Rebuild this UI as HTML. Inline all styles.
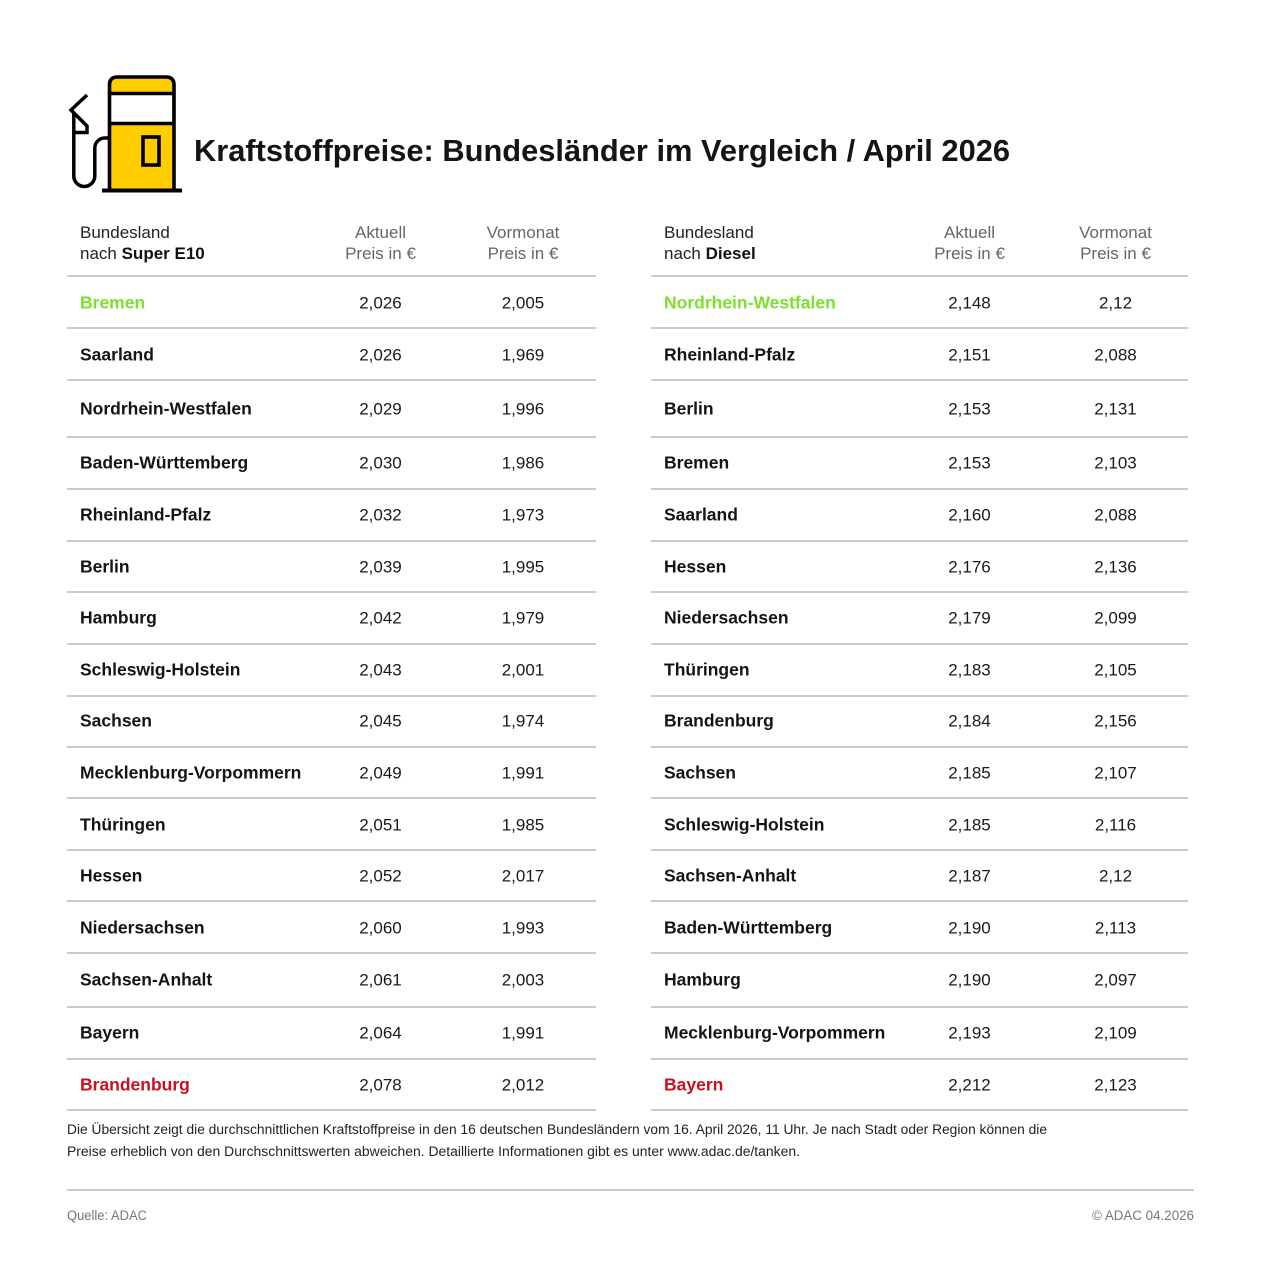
<!DOCTYPE html>
<html><head><meta charset="utf-8"><style>
html,body{margin:0;padding:0;background:#fff;}
svg{display:block;}
text{font-family:"Liberation Sans",sans-serif;}
.n{font-size:17.5px;font-weight:bold;fill:#141414;}
.v{font-size:17px;fill:#1a1a1a;text-anchor:middle;}
.h{font-size:17px;fill:#222;}
.hg{font-size:17px;fill:#666;text-anchor:middle;}
.f{font-size:13.5px;fill:#222;}
.s{font-size:13.5px;fill:#777;}
</style></head><body>
<svg width="1280" height="1272" viewBox="0 0 1280 1272" xmlns="http://www.w3.org/2000/svg">
<rect width="1280" height="1272" fill="#fff"/>
<!-- icon -->
<g>
<path d="M109.5,190 V85 Q109.5,77 117.5,77 H166 Q174,77 174,85 V190 Z" fill="#FFCC00"/>
<rect x="111" y="95" width="61" height="27" fill="#fff"/>
<path d="M109.5,190 V85 Q109.5,77 117.5,77 H166 Q174,77 174,85 V190" fill="none" stroke="#000" stroke-width="3.6"/>
<line x1="110" y1="93.5" x2="174" y2="93.5" stroke="#000" stroke-width="3.4"/>
<line x1="110" y1="123.5" x2="174" y2="123.5" stroke="#000" stroke-width="3.4"/>
<rect x="143" y="137" width="16" height="28" fill="none" stroke="#000" stroke-width="3.6"/>
<line x1="102" y1="190.5" x2="182" y2="190.5" stroke="#000" stroke-width="4"/>
<path d="M87,95 L71,110 L87,126 V132.5 H73.8 M73.8,113 V176 A10.5,10.5 0 0 0 94.8,176 V148 A10,10 0 0 1 104.8,138 H109" fill="none" stroke="#000" stroke-width="3.5" stroke-linejoin="miter"/>
</g>
<text x="194" y="161" font-size="31" font-weight="bold" fill="#141414" textLength="816" lengthAdjust="spacingAndGlyphs">Kraftstoffpreise: Bundesländer im Vergleich / April 2026</text>

<!-- headers -->
<text class="h" x="80" y="238">Bundesland</text>
<text class="h" x="80" y="259">nach <tspan font-weight="bold" fill="#111">Super E10</tspan></text>
<text class="hg" x="380.5" y="238">Aktuell</text>
<text class="hg" x="380.5" y="259">Preis in €</text>
<text class="hg" x="523" y="238">Vormonat</text>
<text class="hg" x="523" y="259">Preis in €</text>

<text class="h" x="664" y="238">Bundesland</text>
<text class="h" x="664" y="259">nach <tspan font-weight="bold" fill="#111">Diesel</tspan></text>
<text class="hg" x="969.5" y="238">Aktuell</text>
<text class="hg" x="969.5" y="259">Preis in €</text>
<text class="hg" x="1115.5" y="238">Vormonat</text>
<text class="hg" x="1115.5" y="259">Preis in €</text>

<!-- lines -->
<g stroke="#cacaca" stroke-width="2">
<line x1="67" x2="596" y1="276" y2="276"/><line x1="651" x2="1188" y1="276" y2="276"/>
<line x1="67" x2="596" y1="328" y2="328"/><line x1="651" x2="1188" y1="328" y2="328"/>
<line x1="67" x2="596" y1="380" y2="380"/><line x1="651" x2="1188" y1="380" y2="380"/>
<line x1="67" x2="596" y1="437" y2="437"/><line x1="651" x2="1188" y1="437" y2="437"/>
<line x1="67" x2="596" y1="489" y2="489"/><line x1="651" x2="1188" y1="489" y2="489"/>
<line x1="67" x2="596" y1="541" y2="541"/><line x1="651" x2="1188" y1="541" y2="541"/>
<line x1="67" x2="596" y1="592" y2="592"/><line x1="651" x2="1188" y1="592" y2="592"/>
<line x1="67" x2="596" y1="644" y2="644"/><line x1="651" x2="1188" y1="644" y2="644"/>
<line x1="67" x2="596" y1="696" y2="696"/><line x1="651" x2="1188" y1="696" y2="696"/>
<line x1="67" x2="596" y1="747" y2="747"/><line x1="651" x2="1188" y1="747" y2="747"/>
<line x1="67" x2="596" y1="798" y2="798"/><line x1="651" x2="1188" y1="798" y2="798"/>
<line x1="67" x2="596" y1="850" y2="850"/><line x1="651" x2="1188" y1="850" y2="850"/>
<line x1="67" x2="596" y1="901" y2="901"/><line x1="651" x2="1188" y1="901" y2="901"/>
<line x1="67" x2="596" y1="953" y2="953"/><line x1="651" x2="1188" y1="953" y2="953"/>
<line x1="67" x2="596" y1="1007" y2="1007"/><line x1="651" x2="1188" y1="1007" y2="1007"/>
<line x1="67" x2="596" y1="1059" y2="1059"/><line x1="651" x2="1188" y1="1059" y2="1059"/>
<line x1="67" x2="596" y1="1110" y2="1110"/><line x1="651" x2="1188" y1="1110" y2="1110"/>
<line x1="67" x2="1194" y1="1190" y2="1190"/>
</g>

<!-- left table -->
<text class="n" x="80" y="308.5" style="fill:#7ee02e">Bremen</text><text class="v" x="380.5" y="308.5">2,026</text><text class="v" x="523" y="308.5">2,005</text>
<text class="n" x="80" y="360.5">Saarland</text><text class="v" x="380.5" y="360.5">2,026</text><text class="v" x="523" y="360.5">1,969</text>
<text class="n" x="80" y="414.5">Nordrhein-Westfalen</text><text class="v" x="380.5" y="414.5">2,029</text><text class="v" x="523" y="414.5">1,996</text>
<text class="n" x="80" y="468.5">Baden-Württemberg</text><text class="v" x="380.5" y="468.5">2,030</text><text class="v" x="523" y="468.5">1,986</text>
<text class="n" x="80" y="520.5">Rheinland-Pfalz</text><text class="v" x="380.5" y="520.5">2,032</text><text class="v" x="523" y="520.5">1,973</text>
<text class="n" x="80" y="572.5">Berlin</text><text class="v" x="380.5" y="572.5">2,039</text><text class="v" x="523" y="572.5">1,995</text>
<text class="n" x="80" y="623.5">Hamburg</text><text class="v" x="380.5" y="623.5">2,042</text><text class="v" x="523" y="623.5">1,979</text>
<text class="n" x="80" y="675.5">Schleswig-Holstein</text><text class="v" x="380.5" y="675.5">2,043</text><text class="v" x="523" y="675.5">2,001</text>
<text class="n" x="80" y="726.5">Sachsen</text><text class="v" x="380.5" y="726.5">2,045</text><text class="v" x="523" y="726.5">1,974</text>
<text class="n" x="80" y="778.5">Mecklenburg-Vorpommern</text><text class="v" x="380.5" y="778.5">2,049</text><text class="v" x="523" y="778.5">1,991</text>
<text class="n" x="80" y="830.5">Thüringen</text><text class="v" x="380.5" y="830.5">2,051</text><text class="v" x="523" y="830.5">1,985</text>
<text class="n" x="80" y="881.5">Hessen</text><text class="v" x="380.5" y="881.5">2,052</text><text class="v" x="523" y="881.5">2,017</text>
<text class="n" x="80" y="933.5">Niedersachsen</text><text class="v" x="380.5" y="933.5">2,060</text><text class="v" x="523" y="933.5">1,993</text>
<text class="n" x="80" y="985.5">Sachsen-Anhalt</text><text class="v" x="380.5" y="985.5">2,061</text><text class="v" x="523" y="985.5">2,003</text>
<text class="n" x="80" y="1038.5">Bayern</text><text class="v" x="380.5" y="1038.5">2,064</text><text class="v" x="523" y="1038.5">1,991</text>
<text class="n" x="80" y="1090.5" style="fill:#c8101e">Brandenburg</text><text class="v" x="380.5" y="1090.5">2,078</text><text class="v" x="523" y="1090.5">2,012</text>

<!-- right table -->
<text class="n" x="664" y="308.5" style="fill:#7ee02e">Nordrhein-Westfalen</text><text class="v" x="969.5" y="308.5">2,148</text><text class="v" x="1115.5" y="308.5">2,12</text>
<text class="n" x="664" y="360.5">Rheinland-Pfalz</text><text class="v" x="969.5" y="360.5">2,151</text><text class="v" x="1115.5" y="360.5">2,088</text>
<text class="n" x="664" y="414.5">Berlin</text><text class="v" x="969.5" y="414.5">2,153</text><text class="v" x="1115.5" y="414.5">2,131</text>
<text class="n" x="664" y="468.5">Bremen</text><text class="v" x="969.5" y="468.5">2,153</text><text class="v" x="1115.5" y="468.5">2,103</text>
<text class="n" x="664" y="520.5">Saarland</text><text class="v" x="969.5" y="520.5">2,160</text><text class="v" x="1115.5" y="520.5">2,088</text>
<text class="n" x="664" y="572.5">Hessen</text><text class="v" x="969.5" y="572.5">2,176</text><text class="v" x="1115.5" y="572.5">2,136</text>
<text class="n" x="664" y="623.5">Niedersachsen</text><text class="v" x="969.5" y="623.5">2,179</text><text class="v" x="1115.5" y="623.5">2,099</text>
<text class="n" x="664" y="675.5">Thüringen</text><text class="v" x="969.5" y="675.5">2,183</text><text class="v" x="1115.5" y="675.5">2,105</text>
<text class="n" x="664" y="726.5">Brandenburg</text><text class="v" x="969.5" y="726.5">2,184</text><text class="v" x="1115.5" y="726.5">2,156</text>
<text class="n" x="664" y="778.5">Sachsen</text><text class="v" x="969.5" y="778.5">2,185</text><text class="v" x="1115.5" y="778.5">2,107</text>
<text class="n" x="664" y="830.5">Schleswig-Holstein</text><text class="v" x="969.5" y="830.5">2,185</text><text class="v" x="1115.5" y="830.5">2,116</text>
<text class="n" x="664" y="881.5">Sachsen-Anhalt</text><text class="v" x="969.5" y="881.5">2,187</text><text class="v" x="1115.5" y="881.5">2,12</text>
<text class="n" x="664" y="933.5">Baden-Württemberg</text><text class="v" x="969.5" y="933.5">2,190</text><text class="v" x="1115.5" y="933.5">2,113</text>
<text class="n" x="664" y="985.5">Hamburg</text><text class="v" x="969.5" y="985.5">2,190</text><text class="v" x="1115.5" y="985.5">2,097</text>
<text class="n" x="664" y="1038.5">Mecklenburg-Vorpommern</text><text class="v" x="969.5" y="1038.5">2,193</text><text class="v" x="1115.5" y="1038.5">2,109</text>
<text class="n" x="664" y="1090.5" style="fill:#c8101e">Bayern</text><text class="v" x="969.5" y="1090.5">2,212</text><text class="v" x="1115.5" y="1090.5">2,123</text>

<!-- footnote -->
<text class="f" x="67" y="1134" textLength="980" lengthAdjust="spacingAndGlyphs">Die Übersicht zeigt die durchschnittlichen Kraftstoffpreise in den 16 deutschen Bundesländern vom 16. April 2026, 11 Uhr. Je nach Stadt oder Region können die</text>
<text class="f" x="67" y="1156" textLength="733" lengthAdjust="spacingAndGlyphs">Preise erheblich von den Durchschnittswerten abweichen. Detaillierte Informationen gibt es unter www.adac.de/tanken.</text>
<text class="s" x="67" y="1220" textLength="80" lengthAdjust="spacingAndGlyphs">Quelle: ADAC</text>
<text class="s" x="1092" y="1220" textLength="102" lengthAdjust="spacingAndGlyphs">© ADAC 04.2026</text>
</svg>
</body></html>
